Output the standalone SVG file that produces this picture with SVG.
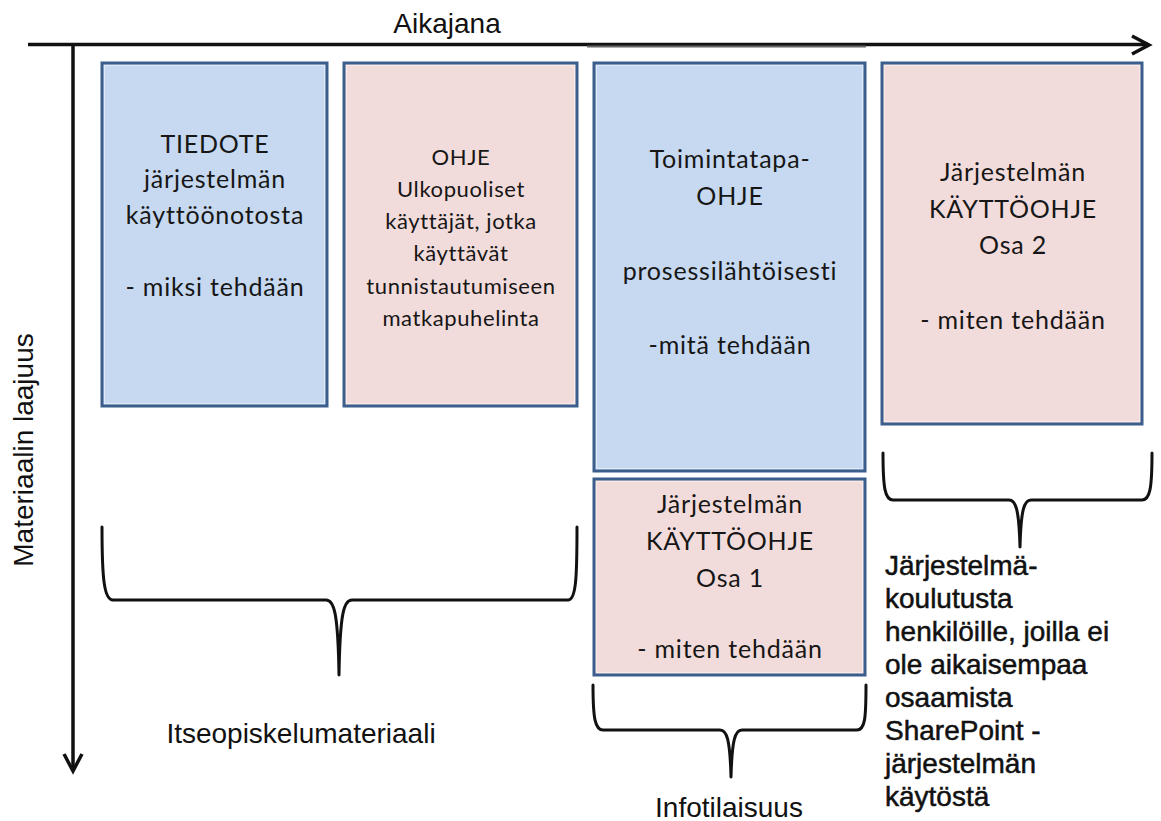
<svg xmlns="http://www.w3.org/2000/svg" width="1161" height="821" viewBox="0 0 1161 821">
  <style>
    .box { stroke: #3b5e8c; stroke-width: 3; }
    .blue { fill: #c6d9f0; }
    .pink { fill: #f2dcdb; }
    .glow { fill: none; stroke: #ffffff; stroke-opacity: 0.45; stroke-width: 1; }
    .btxt { font-family: Lato, "Open Sans", sans-serif; font-size: 25px; letter-spacing: 0.8px; fill: #161616; text-anchor: middle; }
    .small { font-size: 22px; letter-spacing: 0.6px; }
    .lbl { font-family: "Liberation Sans", Arial, sans-serif; font-size: 28px; fill: #111; }
    .heavy { stroke: #111; stroke-width: 0.5; }
    .axis { fill: none; stroke: #111; stroke-width: 3.5; }
    .brace { fill: none; stroke: #111; stroke-width: 3; stroke-linejoin: round; stroke-linecap: round; }
  </style>

  <!-- axes -->
  <g id="connectors">
    <line class="axis" x1="28" y1="44.5" x2="1148" y2="44.5"/>
    <line x1="587" y1="46.5" x2="866" y2="46.5" stroke="#666" stroke-width="2"/>
    <polyline class="axis" points="1132,36 1149,45 1132,54" stroke-width="4.5" stroke-linejoin="miter"/>
    <line class="axis" x1="73" y1="44" x2="73" y2="770"/>
    <polyline class="axis" points="64,754 73,771 82,754" stroke-width="4.5" stroke-linejoin="miter"/>

    <!-- braces -->
    <path class="brace" d="M102,527 C102,578 104,600 113,600 L326,600 C334,600 338,612 339,675 C340,612 344,600 352,600 L568,600 C576,600 577,578 577,527"/>
    <path class="brace" d="M593,685 C593,718 595,730 603,730 L720,730 C727,730 730,740 731,777 C732,740 735,730 742,730 L857,730 C865,730 866,718 866,685"/>
    <path class="brace" d="M883,453 C883,488 885,500 893,500 L1009,500 C1016,500 1019,510 1020,547 C1021,510 1024,500 1031,500 L1142,500 C1150,500 1152,488 1152,453"/>
  </g>

  <!-- axis labels -->
  <g id="axis-labels">
    <text class="lbl" x="447" y="33" text-anchor="middle">Aikajana</text>
    <text class="lbl" x="0" y="0" text-anchor="middle" transform="translate(33,450) rotate(-90)">Materiaalin laajuus</text>
  </g>

  <g id="tiedote">
    <rect class="box blue" x="102" y="63" width="225" height="343"/>
    <rect class="glow" x="104.5" y="65.5" width="220" height="338"/>
    <text class="btxt" x="215" y="153">TIEDOTE</text>
    <text class="btxt" x="215" y="188">järjestelmän</text>
    <text class="btxt" x="215" y="224">käyttöönotosta</text>
    <text class="btxt" x="215" y="296">- miksi tehdään</text>
  </g>

  <g id="ohje">
    <rect class="box pink" x="344" y="63" width="233" height="343"/>
    <rect class="glow" x="346.5" y="65.5" width="228" height="338"/>
    <text class="btxt small" x="461" y="165">OHJE</text>
    <text class="btxt small" x="461" y="197">Ulkopuoliset</text>
    <text class="btxt small" x="461" y="229">käyttäjät, jotka</text>
    <text class="btxt small" x="461" y="261">käyttävät</text>
    <text class="btxt small" x="461" y="294">tunnistautumiseen</text>
    <text class="btxt small" x="461" y="326">matkapuhelinta</text>
  </g>

  <g id="toimintatapa">
    <rect class="box blue" x="594" y="63" width="271" height="408"/>
    <rect class="glow" x="596.5" y="65.5" width="266" height="403"/>
    <text class="btxt" x="730" y="168">Toimintatapa-</text>
    <text class="btxt" x="730" y="205">OHJE</text>
    <text class="btxt" x="730" y="280">prosessilähtöisesti</text>
    <text class="btxt" x="730" y="354">-mitä tehdään</text>
  </g>

  <g id="kayttoohje-1">
    <rect class="box pink" x="594" y="479" width="271" height="196"/>
    <rect class="glow" x="596.5" y="481.5" width="266" height="191"/>
    <text class="btxt" x="730" y="513">Järjestelmän</text>
    <text class="btxt" x="730" y="550">KÄYTTÖOHJE</text>
    <text class="btxt" x="730" y="587">Osa 1</text>
    <text class="btxt" x="730" y="658">- miten tehdään</text>
  </g>

  <g id="kayttoohje-2">
    <rect class="box pink" x="882" y="63" width="260" height="361"/>
    <rect class="glow" x="884.5" y="65.5" width="255" height="356"/>
    <text class="btxt" x="1013" y="181">Järjestelmän</text>
    <text class="btxt" x="1013" y="218">KÄYTTÖOHJE</text>
    <text class="btxt" x="1013" y="254">Osa 2</text>
    <text class="btxt" x="1013" y="329">- miten tehdään</text>
  </g>

  <!-- group labels under the braces -->
  <g id="itseopiskelu">
    <text class="lbl" x="301" y="743" text-anchor="middle">Itseopiskelumateriaali</text>
  </g>
  <g id="infotilaisuus">
    <text class="lbl" x="729" y="817" text-anchor="middle">Infotilaisuus</text>
  </g>
  <g id="koulutus">
    <text class="lbl heavy" x="885" y="575">Järjestelmä-</text>
    <text class="lbl heavy" x="885" y="608">koulutusta</text>
    <text class="lbl heavy" x="885" y="641">henkilöille, joilla ei</text>
    <text class="lbl heavy" x="885" y="674">ole aikaisempaa</text>
    <text class="lbl heavy" x="885" y="707">osaamista</text>
    <text class="lbl heavy" x="885" y="740">SharePoint -</text>
    <text class="lbl heavy" x="885" y="773">järjestelmän</text>
    <text class="lbl heavy" x="885" y="806">käytöstä</text>
  </g>
</svg>
